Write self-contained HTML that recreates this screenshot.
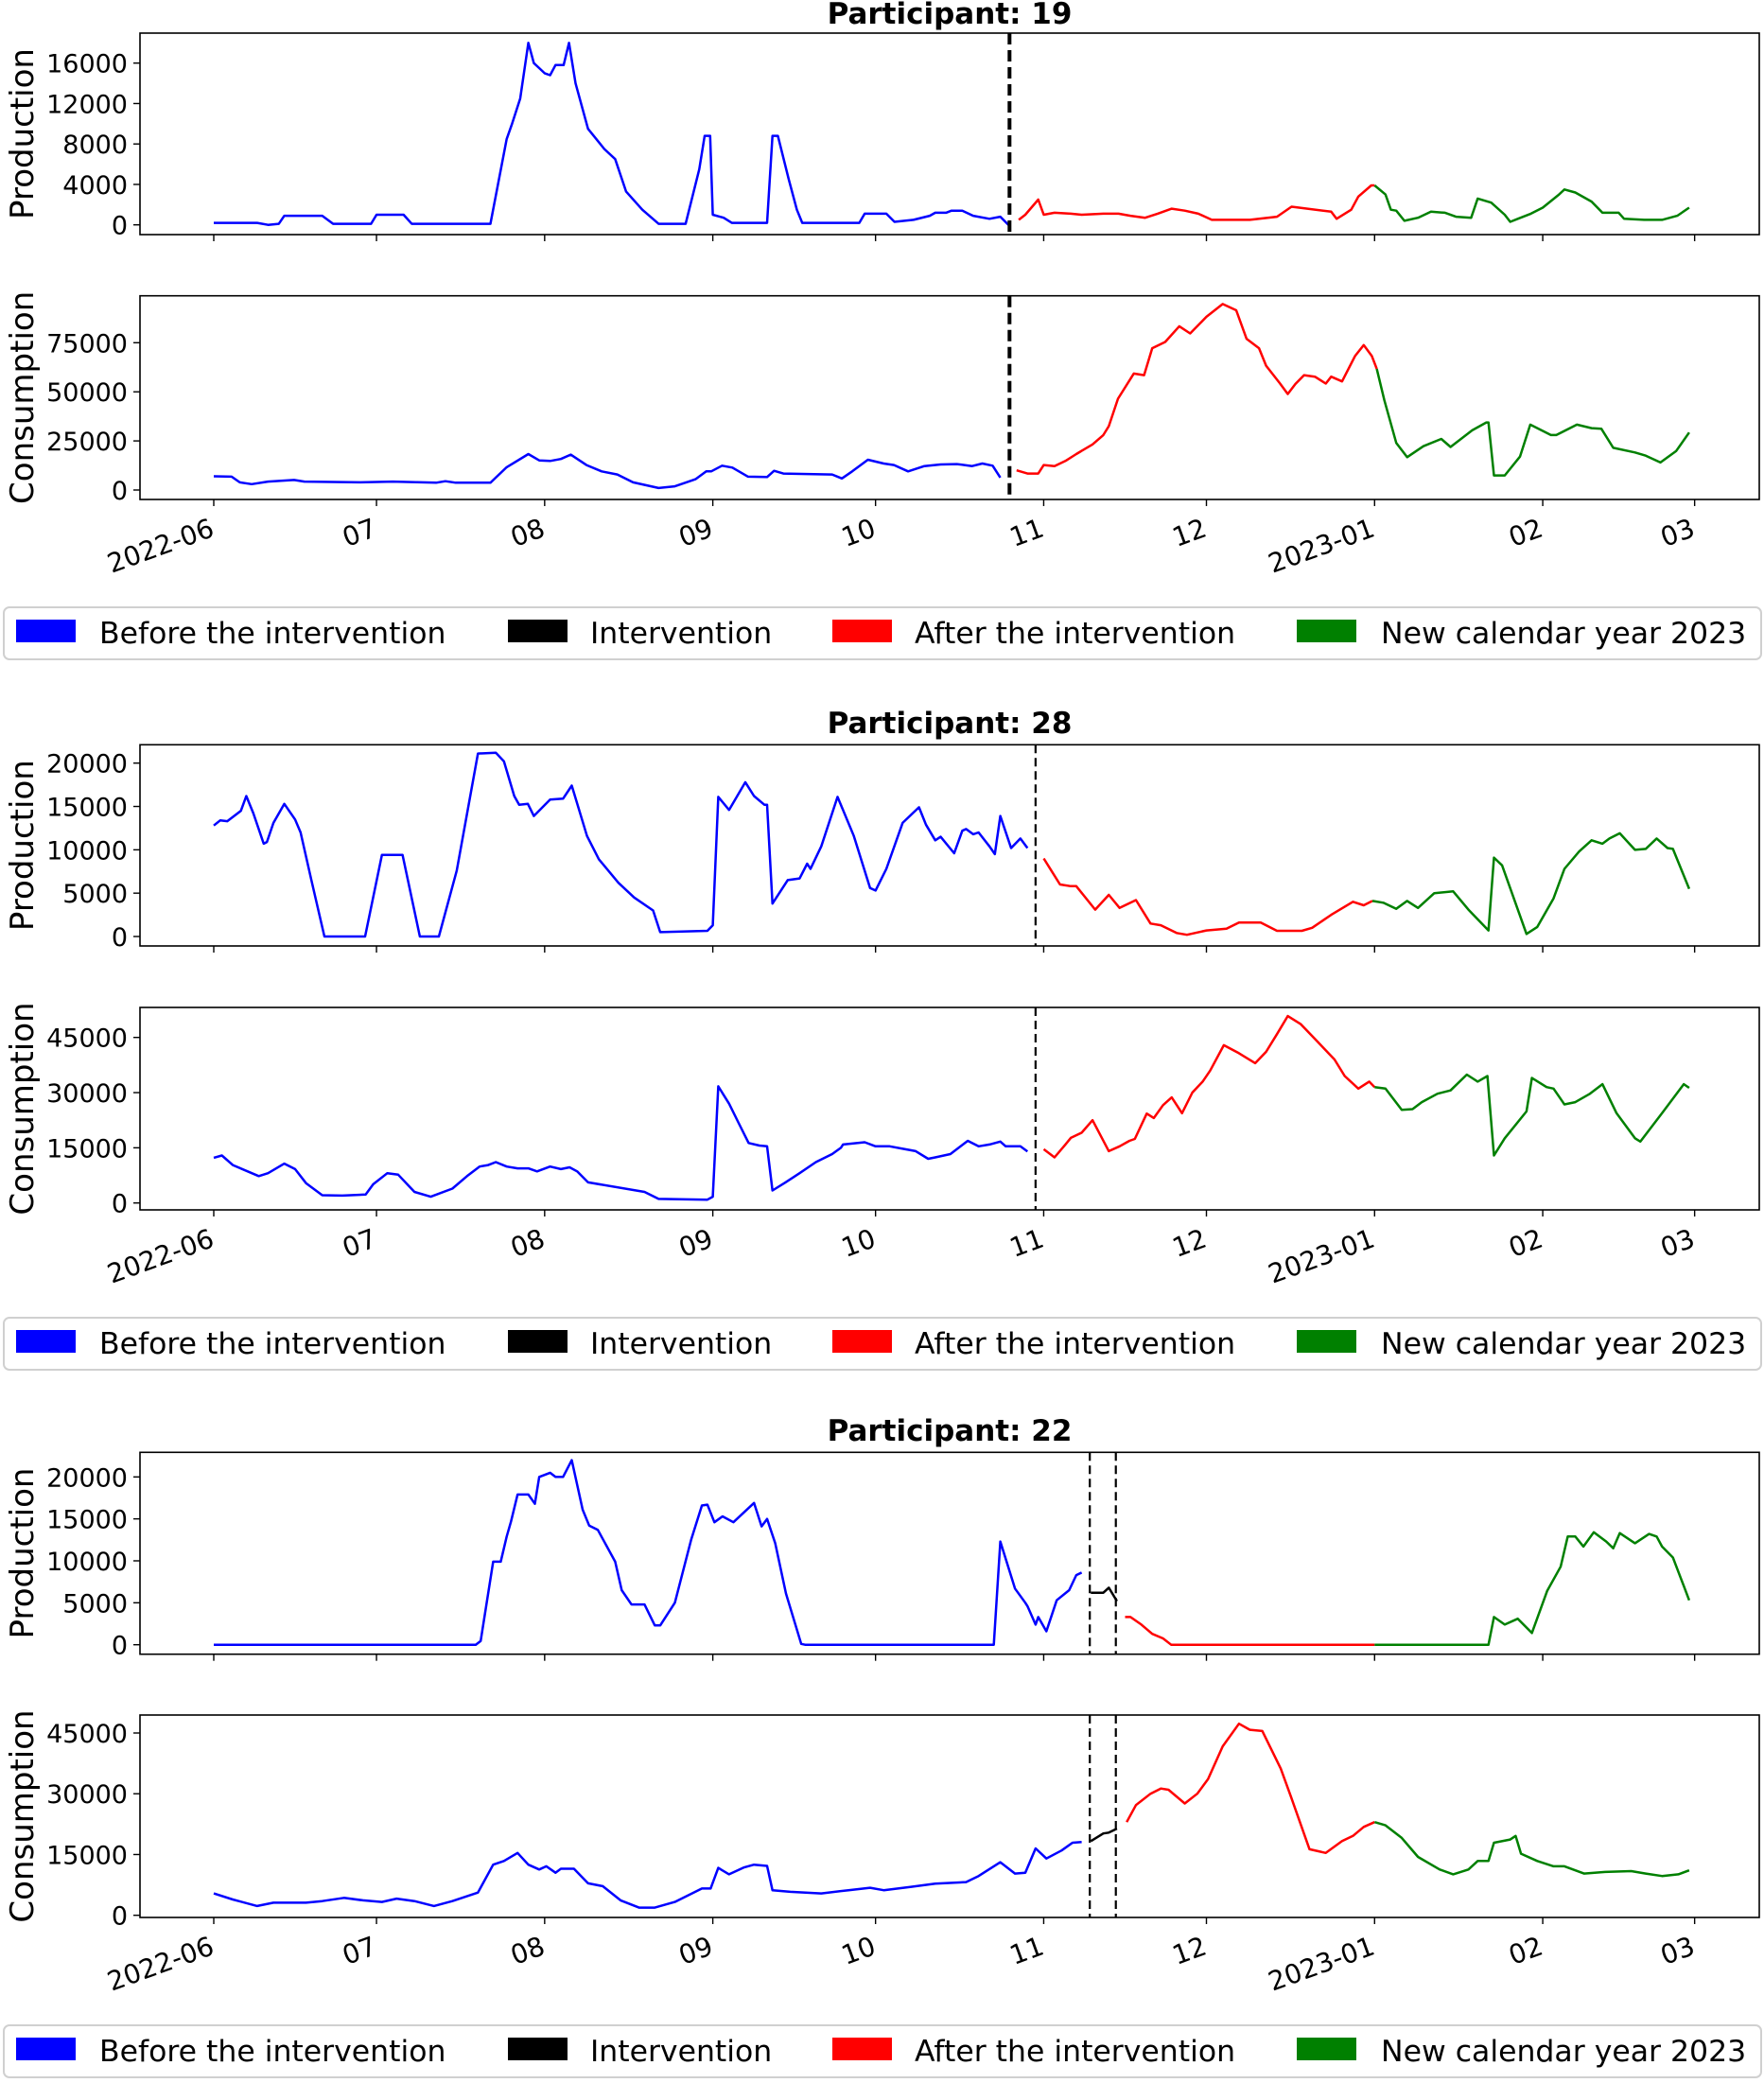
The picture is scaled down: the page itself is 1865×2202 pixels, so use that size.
<!DOCTYPE html>
<html><head><meta charset="utf-8">
<style>
html,body{margin:0;padding:0;background:#fff;}
svg{display:block;font-family:"DejaVu Sans","Liberation Sans",sans-serif;}
</style></head>
<body>
<svg id="fig" width="1865" height="2202" viewBox="0 0 1865 2202" xmlns="http://www.w3.org/2000/svg"></svg>
<script>
// ---------- data (day offset since 2022-06-01, value) ----------
const monthTickDays = [0,30,61,92,122,153,183,214,245,273];
const monthTickLabels = ["2022-06","07","08","09","10","11","12","2023-01","02","03"];
const legendLabels = ["Before the intervention","Intervention","After the intervention","New calendar year 2023"];

const p19Ticks = [0,4000,8000,12000,16000];
const p19CTicks = [0,25000,50000,75000];
const p19Interv = [146.7];
const p19ProdBefore = [[0,200],[8,200],[10,0],[12,100],[13,900],[20,900],[22,100],[29,100],[30,1000],[35,1000],[36.5,100],[51,100],[54,8500],[55,10000],[56.5,12500],[58,18000],[59,16000],[60,15500],[61,15000],[62,14800],[63,15800],[64.5,15800],[65.5,18000],[66.7,14000],[69,9500],[72,7500],[74,6500],[76,3300],[79,1500],[82,100],[87,100],[89.5,5500],[90.5,8800],[91.5,8800],[92,1000],[94,700],[95.5,200],[102,200],[103,8800],[104,8800],[106,4500],[107.5,1500],[108.5,200],[119,200],[120,1100],[124,1100],[125.5,300],[129,500],[132,900],[133,1200],[135,1200],[136,1400],[138,1400],[140,900],[143,600],[145,800],[146.5,0]];
const p19ProdInterv = [];
const p19ProdAfter = [[148.4,500],[149.6,1000],[152,2500],[153,1000],[155,1200],[158,1100],[160,1000],[164,1100],[166.8,1100],[169,900],[171.7,700],[174,1100],[176.6,1600],[179,1400],[181.5,1100],[184,500],[191,500],[196,800],[198.7,1800],[206,1300],[207,600],[209.7,1500],[211,2800],[213.4,3900],[214,3900]];
const p19ProdNew = [[214,3900],[216,3000],[217,1500],[218,1400],[219.5,400],[222,700],[224.4,1300],[227,1200],[229,800],[231.8,700],[233,2600],[235.5,2200],[238,1000],[239,300],[240.4,600],[242.8,1100],[245,1700],[248,3000],[249,3500],[251,3200],[254,2300],[256,1200],[259,1200],[260,600],[263.7,500],[267,500],[269.8,900],[272,1700]];
const p19ConsBefore = [[0,7000],[3.3,6800],[4.8,3900],[7,3000],[10,4300],[14.8,5100],[16.7,4300],[27,3900],[33,4300],[41,3700],[42.7,4500],[44.6,3700],[51,3700],[54,11600],[58,18300],[60,15100],[62,14800],[64,15800],[65.8,18000],[68.7,12700],[71.5,9500],[74.4,7900],[77.3,3900],[82,1000],[85,1900],[88.8,5500],[90.8,9500],[91.7,9500],[93.7,12400],[95.6,11400],[98.5,6800],[102,6600],[103.3,9800],[105,8400],[114,7900],[115.8,5900],[117.7,9500],[120.6,15400],[123.5,13500],[125.4,12700],[128,9500],[131,12200],[134,13000],[137,13200],[139.8,12200],[141.7,13500],[143.6,12400],[145,6300]];
const p19ConsInterv = [];
const p19ConsAfter = [[148,10000],[150,8400],[152,8400],[153,12700],[155,12200],[157,14800],[159,18300],[162,23200],[164,28000],[165,32500],[166.7,46500],[169.6,59300],[171.5,58500],[173,72200],[175.4,75400],[178,83400],[180,79700],[183,88200],[186,94700],[188.5,91500],[190.4,77000],[192.7,72200],[194,63300],[196.5,54500],[198,48900],[199.4,54000],[201,58500],[203,57700],[205,54200],[206,57700],[208,55300],[210.4,68200],[212,73800],[213.5,68200],[214.4,61700]];
const p19ConsNew = [[214.4,61700],[215.8,45700],[218,24000],[220,16700],[223,22300],[226.3,26000],[228,21900],[232,30400],[234.6,34400],[235,34400],[236,7400],[238,7400],[240.8,17000],[242.7,33300],[246.5,28000],[247.5,28000],[251.3,33300],[254,31500],[255.8,31200],[258,21500],[262,19100],[264,17500],[266.7,14000],[269.6,19900],[272,29300]];

const p28Ticks = [0,5000,10000,15000,20000];
const p28CTicks = [0,15000,30000,45000];
const p28Interv = [151.5];
const p28ProdBefore = [[0,12800],[1.2,13400],[2.5,13300],[5,14500],[6,16200],[7.3,14200],[9.2,10700],[9.8,10900],[11,13100],[13,15300],[15,13500],[16,12000],[18,6500],[20.4,0],[27.9,0],[31,9400],[34.8,9400],[38,0],[41.5,0],[44.8,7600],[48.7,21100],[52,21200],[53.5,20200],[55.4,16200],[56.3,15200],[57.9,15300],[59,13900],[62,15800],[64.4,15900],[66,17400],[68.8,11600],[71,8900],[74.6,6200],[77.5,4500],[81,3000],[82.3,500],[91,650],[92,1300],[93,16100],[95,14600],[98,17800],[99.6,16200],[101.5,15200],[102,15200],[103,3800],[105.8,6500],[108,6700],[109.4,8400],[110,7800],[112,10400],[115,16100],[118,11600],[121,5600],[122,5300],[124,7800],[127,13100],[130,14900],[131.3,12900],[133,11100],[134,11500],[136.5,9600],[138,12200],[138.7,12400],[140,11800],[141,12000],[143,10400],[144,9500],[145,13900],[147,10200],[148.7,11300],[150,10200]];
const p28ProdInterv = [];
const p28ProdAfter = [[153,9000],[154.4,7600],[156,6000],[158,5800],[159,5800],[162.5,3100],[165,4800],[167,3300],[170,4200],[172.7,1500],[174.6,1300],[177.5,400],[179.4,200],[183,700],[186.7,900],[189,1600],[193,1600],[196,650],[200.6,650],[202.5,1000],[206,2500],[210,4000],[212,3600],[213.6,4100]];
const p28ProdNew = [[213.6,4100],[215.6,3900],[218,3200],[220,4100],[222,3300],[225,5000],[228.5,5200],[231.3,3100],[235,700],[236,9100],[237.5,8200],[242,300],[244,1100],[247,4400],[249,7800],[251.7,9800],[254,11100],[256,10700],[257.3,11300],[259.2,11900],[262,10000],[264,10100],[266,11300],[268,10200],[269,10100],[272,5500]];
const p28ConsBefore = [[0,12300],[1.5,12900],[3.5,10300],[8.3,7300],[10,8100],[13,10700],[15,9200],[17,5400],[20,2100],[23.7,2000],[28,2300],[29.4,5100],[32,8100],[34,7700],[37,3000],[40,1700],[44,3900],[46.7,7300],[49,9900],[50.6,10300],[52,11100],[54,9900],[56,9400],[58,9400],[59.6,8600],[62,9900],[64,9200],[65.6,9700],[67,8600],[69,5600],[79.4,3000],[82,1100],[91,900],[92,1700],[93,31700],[95,27000],[96.7,21900],[98.6,16300],[100.6,15600],[102,15400],[103,3400],[105.4,5600],[108,8100],[111,11100],[114,13300],[115.6,15000],[116,15900],[120,16500],[122,15400],[124.6,15400],[127.5,14600],[129.4,14100],[131.7,12000],[133,12400],[135.8,13300],[139,16900],[141,15400],[143,15900],[145,16700],[146,15400],[148.7,15400],[150,14000]];
const p28ConsInterv = [];
const p28ConsAfter = [[153,14600],[155,12400],[157,15900],[158,17700],[160,19100],[162,22500],[165,14100],[167,15400],[168.8,16900],[169.8,17400],[172,24300],[173.3,23100],[175,26600],[176.6,28700],[178.5,24400],[180.4,30000],[182.3,33000],[183.7,36000],[186.2,42900],[189,40700],[192,38000],[194,41100],[196,45900],[198,50800],[200.4,48600],[203,44600],[206.6,39000],[208.5,34500],[211,31100],[213,33000],[214,31500]];
const p28ConsNew = [[214,31500],[216,31100],[219,25300],[221,25500],[222.7,27400],[225.6,29700],[228,30600],[231,34900],[233,33000],[234.8,34500],[236,12900],[238,17600],[242,24900],[243,34000],[245.7,31500],[247,31100],[249,26800],[251,27400],[253.6,29600],[256,32300],[258.6,24400],[262,17600],[263,16700],[267,24400],[271,32300],[272,31300]];

const p22Ticks = [0,5000,10000,15000,20000];
const p22CTicks = [0,15000,30000,45000];
const p22Interv = [161.5,166.3];
const p22ProdBefore = [[0,0],[48.3,0],[49.2,450],[51.5,9900],[52.9,9900],[54,12900],[54.8,14700],[56,17900],[58,17900],[59.2,16800],[60,20000],[62,20500],[63,20000],[64.4,20000],[66,22000],[68,16100],[69.2,14200],[70.8,13700],[74,9900],[75.2,6500],[77,4800],[79.4,4800],[81.3,2300],[82.3,2300],[85,5000],[88,12500],[90,16600],[91,16700],[92.3,14600],[93.8,15300],[95.8,14600],[99.6,16900],[101,14100],[102,15000],[103.5,12100],[105.5,6100],[108.3,100],[109,0],[143.8,0],[145,12300],[147.7,6700],[149.6,5000],[150,4600],[151.5,2400],[152,3300],[153.5,1600],[155.4,5300],[157.7,6500],[159,8300],[160,8600]];
const p22ProdInterv = [[161.7,6200],[164,6200],[165,6800],[166.5,5200]];
const p22ProdAfter = [[168,3300],[169,3300],[171,2400],[173,1300],[175,750],[176.5,0],[214,0]];
const p22ProdNew = [[214,0],[235,0],[236,3300],[238,2400],[240.4,3100],[243,1400],[245.8,6400],[248.3,9300],[249.6,12900],[251,12900],[252.5,11700],[254.4,13400],[256.7,12300],[258,11500],[259.2,13300],[262,12100],[264.6,13200],[266,12900],[267,11700],[269,10400],[271,7000],[272,5300]];
const p22ConsBefore = [[0,5400],[3.5,3900],[8,2300],[11,3100],[17,3100],[20,3500],[24,4300],[27.5,3700],[31,3300],[33.7,4100],[37,3500],[40.6,2300],[44,3500],[48.7,5600],[51.5,12500],[53.5,13400],[56,15400],[58,12500],[60,11300],[61.3,12100],[63,10500],[64,11500],[66.4,11500],[69,7900],[71.7,7200],[75,3700],[78.4,1900],[81.3,1900],[85,3300],[90,6600],[91.6,6600],[93,11700],[95,10100],[97.7,11800],[99.6,12500],[102,12200],[103,6200],[106.3,5800],[112,5400],[117,6200],[121,6800],[123.5,6200],[128.4,7000],[133,7800],[138.7,8200],[141,9700],[145,13100],[147.7,10300],[149.6,10500],[151.5,16500],[153.5,14000],[156.3,16000],[158.3,17900],[160,18100]];
const p22ConsInterv = [[161.7,18300],[164,20200],[165,20400],[166.5,21400]];
const p22ConsAfter = [[168.3,23000],[170,27200],[172.7,30000],[174.6,31300],[176,31000],[179,27600],[181.3,30000],[183.3,33600],[186,41700],[189,47300],[191,45800],[193.3,45500],[196.7,36200],[198.6,29200],[202,16300],[205,15400],[208,18300],[210,19600],[212,21800],[214,23000]];
const p22ConsNew = [[214,23000],[216,22200],[219,19100],[222,14400],[226,11300],[228.5,10100],[231.3,11300],[233,13400],[235,13400],[236,17900],[239,18700],[240,19600],[241,15200],[244,13400],[247,12100],[249,12100],[252.6,10300],[256.5,10700],[261.3,10900],[264,10300],[267,9700],[270,10100],[272,11100]];

// ---------- layout ----------
const NS="http://www.w3.org/2000/svg";
const svg=document.getElementById('fig');
const AX_L=148, AX_R=1860;
function xDay(d){return 226 + d*5.735;}
function mk(tag,attrs,parent){const e=document.createElementNS(NS,tag);for(const k in attrs)e.setAttribute(k,attrs[k]);(parent||svg).appendChild(e);return e;}
function lin(v0,p0,v1,p1){return v=>p0+(v-v0)*(p1-p0)/(v1-v0);}

const panels=[
 {id:19,title:"Participant: 19",titleY:25,interv:p19Interv,dashW:4,dash:"12,6",
  prod:{top:35,bot:248,y:lin(0,237.7,16000,66.7),ticks:p19Ticks,series:[p19ProdBefore,p19ProdInterv,p19ProdAfter,p19ProdNew]},
  cons:{top:312.7,bot:528,y:lin(0,518,75000,362.3),ticks:p19CTicks,series:[p19ConsBefore,p19ConsInterv,p19ConsAfter,p19ConsNew]},
  legTop:642},
 {id:28,title:"Participant: 28",titleY:775,interv:p28Interv,dashW:2.2,dash:"9,5",
  prod:{top:787.3,bot:1000,y:lin(0,990,20000,806.7),ticks:p28Ticks,series:[p28ProdBefore,p28ProdInterv,p28ProdAfter,p28ProdNew]},
  cons:{top:1065,bot:1279,y:lin(0,1271.7,45000,1096.7),ticks:p28CTicks,series:[p28ConsBefore,p28ConsInterv,p28ConsAfter,p28ConsNew]},
  legTop:1393},
 {id:22,title:"Participant: 22",titleY:1523,interv:p22Interv,dashW:2.2,dash:"9,5",
  prod:{top:1535.3,bot:1748.7,y:lin(0,1738.7,20000,1561.3),ticks:p22Ticks,series:[p22ProdBefore,p22ProdInterv,p22ProdAfter,p22ProdNew]},
  cons:{top:1813,bot:2027,y:lin(0,2024.7,45000,1832),ticks:p22CTicks,series:[p22ConsBefore,p22ConsInterv,p22ConsAfter,p22ConsNew]},
  legTop:2141}
];
const colors=["#0000ff","#000000","#ff0000","#008000"];

panels.forEach(p=>{
  const g=mk('g',{});
  
  
  const t=mk('text',{x:(AX_L+AX_R)/2,y:p.titleY,'text-anchor':'middle','font-size':31,'font-weight':'bold',fill:'#000'},g);
  t.textContent=p.title;
  
  

  [['prod','Production',p.prod],['cons','Consumption',p.cons]].forEach(([key,label,ax])=>{
    const ag=mk('g',{},g);
    
    
    ax.series.forEach((s,si)=>{
      if(!s.length)return;
      const pts=s.map(([d,v])=>xDay(d).toFixed(1)+','+ax.y(v).toFixed(1)).join(' ');
      const pl=mk('polyline',{points:pts,fill:'none',stroke:colors[si],'stroke-width':2.5,'stroke-linejoin':'round'},ag);
      
      
    });
    p.interv.forEach(d=>{
      const l=mk('line',{x1:xDay(d),x2:xDay(d),y1:ax.top,y2:ax.bot,stroke:'#000','stroke-width':p.dashW,'stroke-dasharray':p.dash},ag);
      
      
    });
    const fr=mk('rect',{x:AX_L,y:ax.top,width:AX_R-AX_L,height:ax.bot-ax.top,fill:'none',stroke:'#000','stroke-width':1.6},ag);
    
    
    ax.ticks.forEach(v=>{
      const yy=ax.y(v);
      mk('line',{x1:AX_L-7,x2:AX_L,y1:yy,y2:yy,stroke:'#000','stroke-width':1.4},ag);
      const tl=mk('text',{x:AX_L-13,y:yy+10,'text-anchor':'end','font-size':27,fill:'#000'},ag);
      tl.textContent=String(v);
      
      
    });
    const cy=(ax.top+ax.bot)/2;
    const yl=mk('text',{x:0,y:0,'text-anchor':'middle','font-size':34,fill:'#000',transform:'translate(35,'+cy+') rotate(-90)'},ag);
    yl.textContent=label;
    
    
    monthTickDays.forEach((d,i)=>{
      const xx=xDay(d);
      mk('line',{x1:xx,x2:xx,y1:ax.bot,y2:ax.bot+7,stroke:'#000','stroke-width':1.4},ag);
      if(key==='cons'){
        const xl=mk('text',{x:0,y:0,'text-anchor':'end','font-size':28,fill:'#000',transform:'translate('+(xx+2)+','+(ax.bot+38)+') rotate(-20)'},ag);
        xl.textContent=monthTickLabels[i];
        
        
      }
    });
  });

  const lg=mk('g',{},g);
  
  
  mk('rect',{x:4,y:p.legTop,width:1858,height:55,rx:6,fill:'#fff',stroke:'#d0d0d0','stroke-width':2},lg);
  const patchX=[17,537,880,1371], textX=[105,624,967,1460];
  legendLabels.forEach((lab,i)=>{
    const r=mk('rect',{x:patchX[i],y:p.legTop+13,width:63,height:24,fill:colors[i]},lg);
    
    
    const tx=mk('text',{x:textX[i],y:p.legTop+38,'font-size':31.5,fill:'#000'},lg);
    tx.textContent=lab;
    
    
  });
});
</script>
</body></html>
